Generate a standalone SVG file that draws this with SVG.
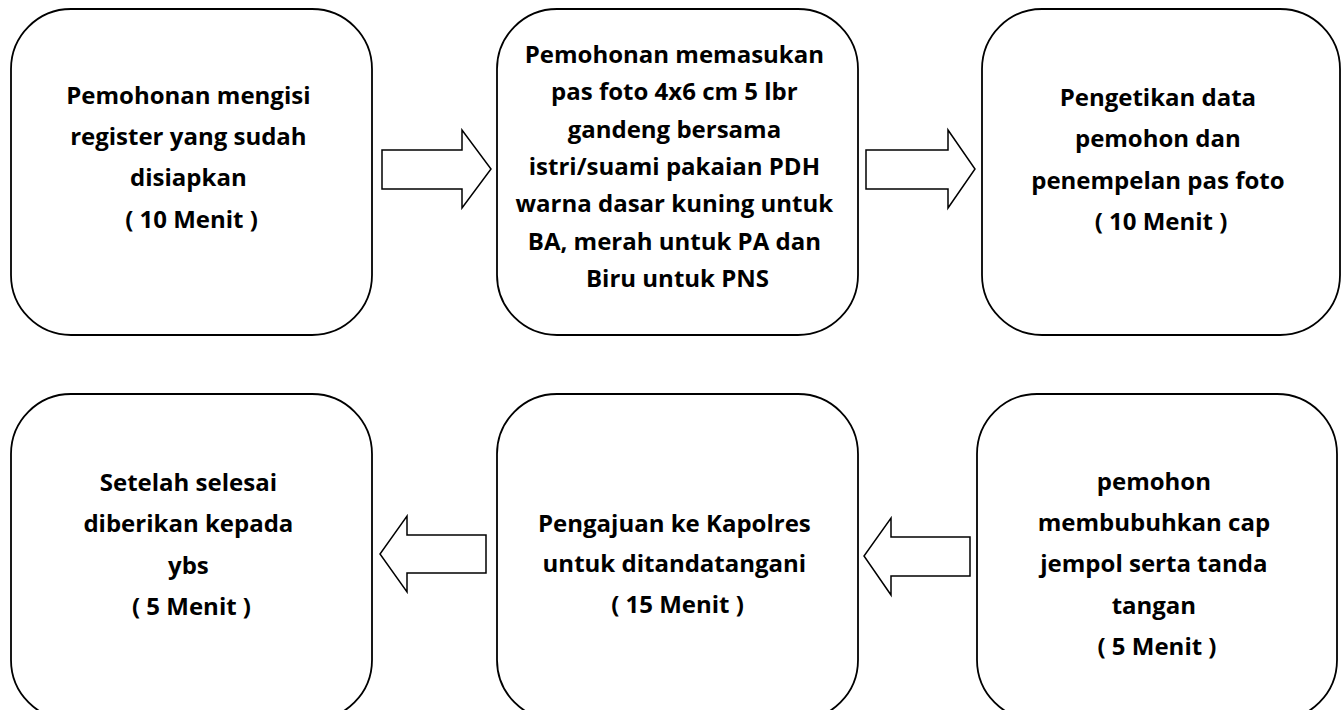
<svg xmlns="http://www.w3.org/2000/svg" width="1341" height="710" viewBox="0 0 1341 710">
  <style>
    .box { fill: #ffffff; stroke: #000000; stroke-width: 1.8; }
    .arrow { fill: #ffffff; stroke: #000000; stroke-width: 1.5; stroke-linejoin: miter; }
    .label { font-family: "Open Sans", "Liberation Sans", sans-serif; font-weight: 700; font-size: 24px; fill: #000000; text-anchor: middle; }
  </style>
  <rect width="1341" height="710" fill="#ffffff"/>

  <!-- connectors: hollow block arrows -->
  <g id="connectors">
    <polygon class="arrow" points="382,150 462,150 462,130 491,169 462,208 462,189 382,189"/>
    <polygon class="arrow" points="866,150 948,150 948,130 975,169 948,208 948,189 866,189"/>
    <polygon class="arrow" points="970,537 891,537 891,518 864,556 891,595 891,576 970,576"/>
    <polygon class="arrow" points="486,535 407,535 407,516 380,554 407,592 407,573 486,573"/>
  </g>

  <!-- top row -->
  <g id="step1">
    <rect class="box" x="11" y="9" width="361" height="326" rx="60" ry="60"/>
    <text class="label" x="191.5">
      <tspan x="191.5" y="104">Pemohonan mengisi</tspan>
      <tspan x="191.5" y="145">register yang sudah</tspan>
      <tspan x="191.5" y="186">disiapkan</tspan>
      <tspan x="191.5" y="228">( 10 Menit )</tspan>
    </text>
  </g>

  <g id="step2">
    <rect class="box" x="497" y="9" width="361" height="326" rx="60" ry="60"/>
    <text class="label">
      <tspan x="677.5" y="63">Pemohonan memasukan</tspan>
      <tspan x="677.5" y="100">pas foto 4x6 cm 5 lbr</tspan>
      <tspan x="677.5" y="138">gandeng bersama</tspan>
      <tspan x="677.5" y="175">istri/suami pakaian PDH</tspan>
      <tspan x="677.5" y="212">warna dasar kuning untuk</tspan>
      <tspan x="677.5" y="250">BA, merah untuk PA dan</tspan>
      <tspan x="677.5" y="287">Biru untuk PNS</tspan>
    </text>
  </g>

  <g id="step3">
    <rect class="box" x="982" y="9" width="358" height="326" rx="60" ry="60"/>
    <text class="label">
      <tspan x="1161" y="106">Pengetikan data</tspan>
      <tspan x="1161" y="147">pemohon dan</tspan>
      <tspan x="1161" y="189">penempelan pas foto</tspan>
      <tspan x="1161" y="230">( 10 Menit )</tspan>
    </text>
  </g>

  <!-- bottom row -->
  <g id="step6">
    <rect class="box" x="11" y="394" width="361" height="326" rx="60" ry="60"/>
    <text class="label">
      <tspan x="191.5" y="491">Setelah selesai</tspan>
      <tspan x="191.5" y="532">diberikan kepada</tspan>
      <tspan x="191.5" y="574">ybs</tspan>
      <tspan x="191.5" y="615">( 5 Menit )</tspan>
    </text>
  </g>

  <g id="step5">
    <rect class="box" x="497" y="394" width="361" height="326" rx="60" ry="60"/>
    <text class="label">
      <tspan x="677.5" y="532">Pengajuan ke Kapolres</tspan>
      <tspan x="677.5" y="572">untuk ditandatangani</tspan>
      <tspan x="677.5" y="613">( 15 Menit )</tspan>
    </text>
  </g>

  <g id="step4">
    <rect class="box" x="977" y="394" width="360" height="326" rx="60" ry="60"/>
    <text class="label">
      <tspan x="1157" y="490">pemohon</tspan>
      <tspan x="1157" y="531">membubuhkan cap</tspan>
      <tspan x="1157" y="572">jempol serta tanda</tspan>
      <tspan x="1157" y="614">tangan</tspan>
      <tspan x="1157" y="655">( 5 Menit )</tspan>
    </text>
  </g>
</svg>
